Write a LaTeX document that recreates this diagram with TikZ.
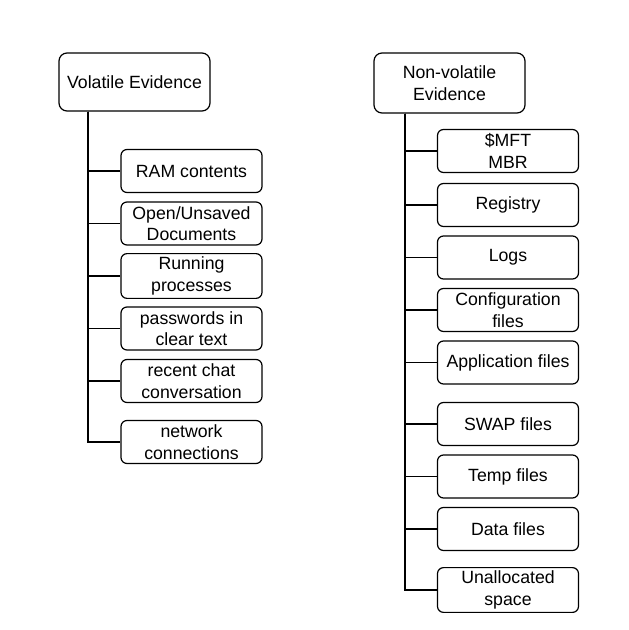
\documentclass[tikz,border=0pt]{standalone}
\usepackage{fontspec}
\setmainfont{Liberation Sans}
\usetikzlibrary{positioning}
\tikzstyle{root} = [rectangle, rounded corners=8pt, minimum width=151pt, minimum height=58pt, align=center, draw=black, line width=1.2pt, font=\fontsize{17.7}{21.6}\selectfont]
\tikzstyle{item} = [rectangle, rounded corners=6pt, minimum width=141pt, minimum height=43pt, align=center, draw=black, line width=1.2pt, font=\fontsize{17.7}{21.6}\selectfont]
\tikzstyle{line} = [line width=1.2pt]

\begin{document}
\begin{tikzpicture}[x=1pt, y=1pt, node distance=52.5pt]
\useasboundingbox (0,0) rectangle (629,-630);

%left column
\node (VE) [root] at (134.5,-82) {Volatile Evidence};
\node (RAM) [item, below of=VE, xshift=57pt, yshift=-36.5pt] {RAM contents};
\node (Docs) [item, below of=RAM] {Open/Unsaved\\Documents};
\node (Proc) [item, below of=Docs] {Running\\processes};
\node (Pass) [item, below of=Proc] {passwords in\\clear text};
\node (Chat) [item, below of=Pass] {recent chat\\conversation};
\node (Net) [item, below of=Chat, yshift=-8.5pt] {network\\connections};

%right column
\node (NV) [root, minimum height=60pt] at (449.5,-83) {Non-volatile\\Evidence};
\node (MFT) [item, below of=NV, xshift=58.5pt, yshift=-15.5pt] {\$MFT\\MBR};
\node (Reg) [item, below of=MFT, yshift=-1.5pt] {Registry};
\node (Logs) [item, below of=Reg] {Logs};
\node (Conf) [item, below of=Logs] {Configuration\\files};
\node (App) [item, below of=Conf] {Application files};
\node (Swap) [item, below of=App, yshift=-9pt] {SWAP files};
\node (Temp) [item, below of=Swap] {Temp files};
\node (Data) [item, below of=Temp] {Data files};
\node (Free) [item, below of=Data, yshift=-8.5pt] {Unallocated\\space};

%lines
\foreach \n in {RAM, Docs, Proc, Pass, Chat, Net}
  \draw [line] (VE.south) ++(-46.5,0) |- (\n.west);
\foreach \n in {MFT, Reg, Logs, Conf, App, Swap, Temp, Data, Free}
  \draw [line] (NV.south) ++(-44.5,0) |- (\n.west);

\end{tikzpicture}
\end{document}
